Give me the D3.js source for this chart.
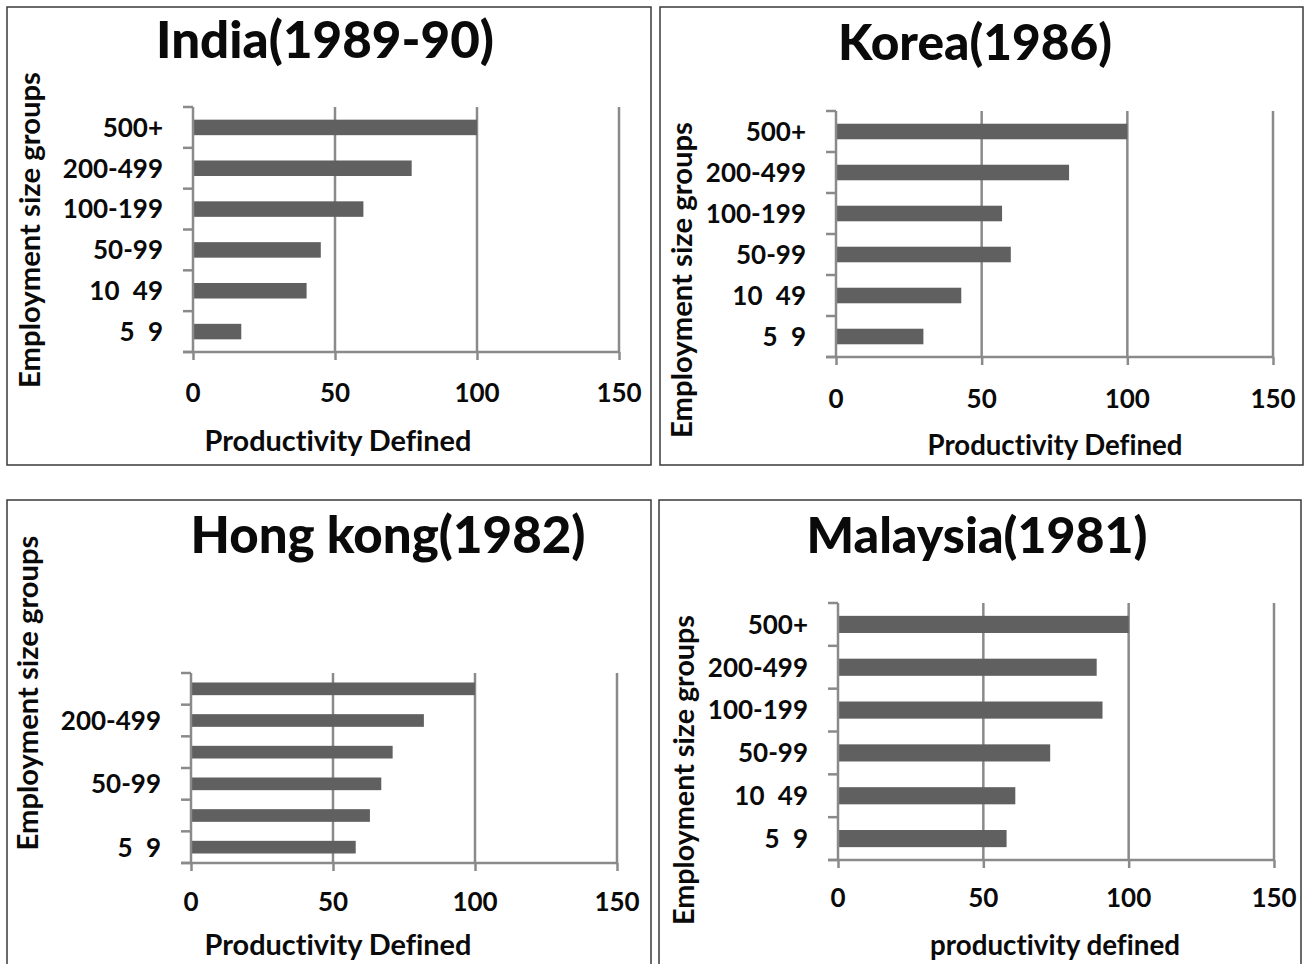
<!DOCTYPE html>
<html>
<head>
<meta charset="utf-8">
<script src="https://cdn.jsdelivr.net/npm/d3@7"></script>
<style>
  html, body { margin: 0; padding: 0; background: #fff; }
  svg { display: block; }
  text { font-family: Lato, "Open Sans", "Liberation Sans", sans-serif; font-weight: 700; fill: #0a0a0a;
         font-variant-ligatures: none; }
</style>
</head>
<body>
<svg id="chart" width="1307" height="964"></svg>
<script>
// ---------- data ----------
const categories = ["5 9", "10 49", "50-99", "100-199", "200-499", "500+"]; // bottom to top
const indiaValues    = [17, 40, 45, 60, 77, 100];
const koreaValues    = [30, 43, 60, 57, 80, 100];
const hongKongValues = [58, 63, 67, 71, 82, 100];
const malaysiaValues = [58, 61, 73, 91, 89, 100];
const xTicks = [0, 50, 100, 150];
const hongKongShownLabels = ["5 9", "50-99", "200-499"];
const titles = ["India(1989-90)", "Korea(1986)", "Hong kong(1982)", "Malaysia(1981)"];
const xTitles = ["Productivity Defined", "Productivity Defined", "Productivity Defined", "productivity defined"];
const yTitle = "Employment size groups";

// ---------- layout ----------
const panels = [
  { values: indiaValues, title: titles[0], xTitle: xTitles[0], labels: categories,
    box: [7, 7, 651, 465], x0: 193, x1: 619, yTop: 107, yBot: 352,
    titlePos: [325, 58], titleW: 338, xTitlePos: [338, 451], xTitleW: 267,
    yTitlePos: [30, 230], yTitleW: 316, tickY: 402, pad: 0.62 },
  { values: koreaValues, title: titles[1], xTitle: xTitles[1], labels: categories,
    box: [660, 7, 1303, 465], x0: 836, x1: 1273, yTop: 111, yBot: 357,
    titlePos: [975, 60], titleW: 274, xTitlePos: [1055, 455], xTitleW: 255,
    yTitlePos: [682, 280], yTitleW: 316, tickY: 408, pad: 0.62 },
  { values: hongKongValues, title: titles[2], xTitle: xTitles[2], labels: hongKongShownLabels,
    box: [7, 500, 651, 980], x0: 191, x1: 617, yTop: 673, yBot: 863,
    titlePos: [388, 553], titleW: 395, xTitlePos: [338, 955], xTitleW: 267,
    yTitlePos: [28, 693], yTitleW: 315, tickY: 911, pad: 0.6 },
  { values: malaysiaValues, title: titles[3], xTitle: xTitles[3], labels: categories,
    box: [659, 500, 1301, 980], x0: 838, x1: 1274, yTop: 603, yBot: 860,
    titlePos: [977, 553], titleW: 341, xTitlePos: [1055, 955], xTitleW: 250,
    yTitlePos: [684, 770], yTitleW: 310, tickY: 907, pad: 0.6 }
];

const svg = d3.select("#chart");
const gridColor = "#8a8a8a";
const barColor = "#606060";

function fitText(sel, target) {
  const node = sel.node();
  const fs = parseFloat(sel.attr("font-size"));
  const w = node.getComputedTextLength();
  if (w > 0) sel.attr("font-size", (fs * target / w).toFixed(2));
}

panels.forEach(p => {
  const g = svg.append("g");
  // panel border
  g.append("rect")
    .attr("x", p.box[0]).attr("y", p.box[1])
    .attr("width", p.box[2] - p.box[0]).attr("height", p.box[3] - p.box[1])
    .attr("fill", "#fff").attr("stroke", "#3a3a3a").attr("stroke-width", 1.5);

  const x = d3.scaleLinear().domain([0, 150]).range([p.x0, p.x1]);
  const y = d3.scaleBand().domain(categories.slice().reverse())
    .range([p.yTop, p.yBot]).paddingInner(p.pad).paddingOuter(p.pad / 2);

  // vertical gridlines
  g.selectAll("line.grid").data(xTicks.filter(t => t > 0)).join("line")
    .attr("class", "grid")
    .attr("x1", d => x(d)).attr("x2", d => x(d))
    .attr("y1", p.yTop).attr("y2", p.yBot)
    .attr("stroke", gridColor).attr("stroke-width", 2.5);

  // bars
  g.selectAll("rect.bar").data(categories.map((c, i) => ({ c, v: p.values[i] }))).join("rect")
    .attr("class", "bar")
    .attr("x", x(0)).attr("y", d => y(d.c))
    .attr("width", d => x(d.v) - x(0)).attr("height", y.bandwidth())
    .attr("fill", barColor);

  // x axis
  const xAxis = d3.axisBottom(x).tickValues(xTicks).tickSize(8).tickSizeOuter(0).tickFormat(d3.format("d"));
  const xg = g.append("g").attr("transform", `translate(0,${p.yBot})`).call(xAxis);
  xg.select(".domain").remove();
  xg.selectAll(".tick line").attr("stroke", gridColor).attr("stroke-width", 2.5);
  xg.selectAll(".tick text").remove();
  g.append("line").attr("x1", p.x0 - 10).attr("x2", p.x1 + 1)
    .attr("y1", p.yBot).attr("y2", p.yBot)
    .attr("stroke", gridColor).attr("stroke-width", 2.5);
  g.selectAll("text.xtick").data(xTicks).join("text")
    .attr("class", "xtick")
    .attr("x", d => x(d)).attr("y", p.tickY)
    .attr("text-anchor", "middle").attr("font-size", 26)
    .text(d => d);

  // y axis line and boundary ticks
  g.append("line").attr("x1", p.x0).attr("x2", p.x0)
    .attr("y1", p.yTop).attr("y2", p.yBot)
    .attr("stroke", gridColor).attr("stroke-width", 2.5);
  const step = y.step();
  const bounds = d3.range(categories.length + 1).map(i => p.yTop + i * step);
  g.selectAll("line.ytick").data(bounds).join("line")
    .attr("class", "ytick")
    .attr("x1", p.x0 - 10).attr("x2", p.x0)
    .attr("y1", d => d).attr("y2", d => d)
    .attr("stroke", gridColor).attr("stroke-width", 2.5);

  // y tick labels
  g.selectAll("text.ylab").data(p.labels).join("text")
    .attr("class", "ylab")
    .attr("x", p.x0 - 30)
    .attr("y", d => y(d) + y.bandwidth() / 2)
    .attr("dy", "0.36em")
    .attr("text-anchor", "end").attr("font-size", 26)
    .style("word-spacing", "7px")
    .text(d => d);

  // title
  const t = g.append("text")
    .attr("x", p.titlePos[0]).attr("y", p.titlePos[1])
    .attr("text-anchor", "middle").attr("font-size", 50)
    .style("font-weight", 900)
    .text(p.title);
  fitText(t, p.titleW);

  // x title
  const xt = g.append("text")
    .attr("x", p.xTitlePos[0]).attr("y", p.xTitlePos[1])
    .attr("text-anchor", "middle").attr("font-size", 22)
    .text(p.xTitle);
  fitText(xt, p.xTitleW);

  // y title
  const yt = g.append("text")
    .attr("transform", `translate(${p.yTitlePos[0]},${p.yTitlePos[1]}) rotate(-90)`)
    .attr("dy", "0.35em")
    .attr("text-anchor", "middle").attr("font-size", 22)
    .text(yTitle);
  fitText(yt, p.yTitleW);
});
</script>
</body>
</html>
